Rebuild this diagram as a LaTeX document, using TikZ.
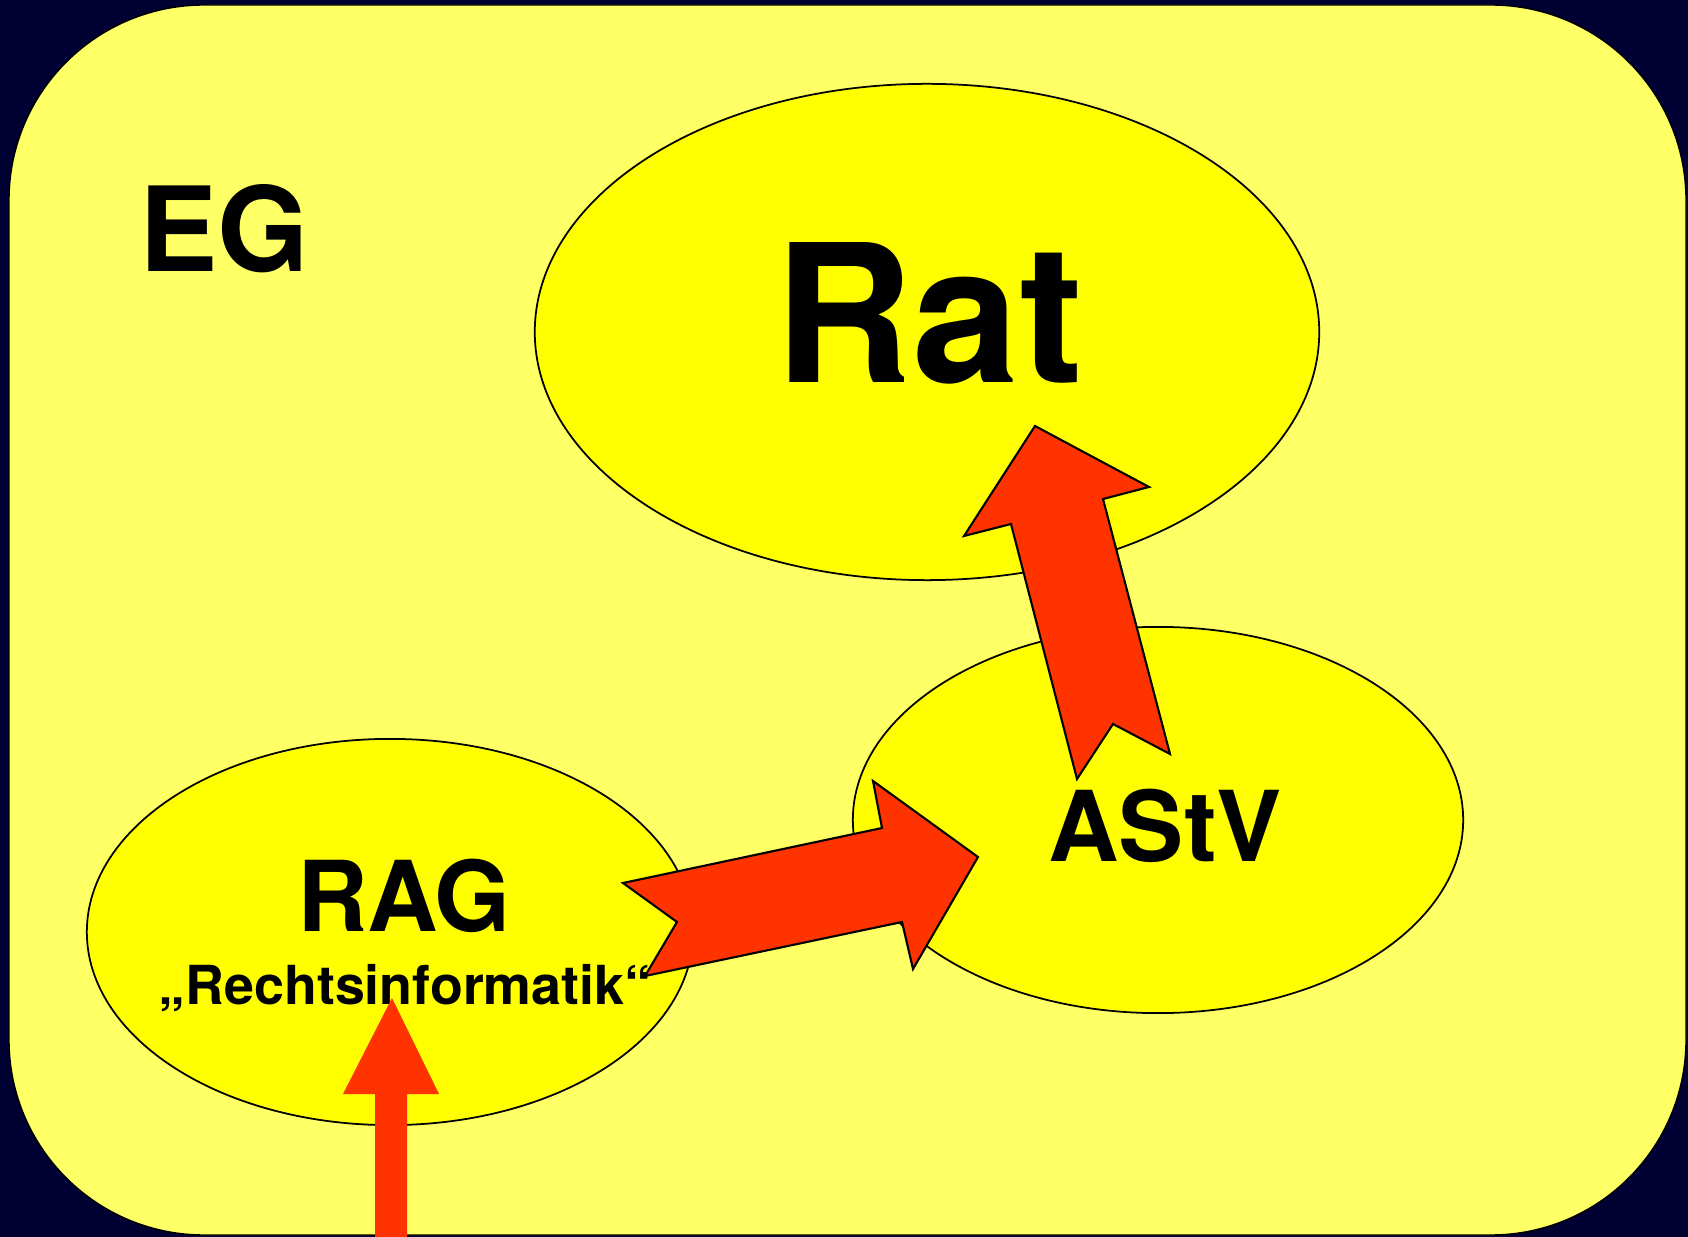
\documentclass[tikz,border=0pt]{standalone}
\usepackage{fontspec}
\setmainfont{TeX Gyre Heros}
\usetikzlibrary{shapes.geometric}

\definecolor{bgnavy}{RGB}{0,0,51}
\definecolor{paleyellow}{RGB}{255,255,102}
\definecolor{blobyellow}{RGB}{255,255,0}
\definecolor{arrowred}{RGB}{255,51,0}

\begin{document}
\begin{tikzpicture}[x=0.01cm, y=-0.01cm,
        blob/.style={ellipse, draw=black, line width=0.5pt, fill=blobyellow, inner sep=0pt},
        label/.style={anchor=base, inner sep=0pt, font=\bfseries},
        bigarrow/.style={draw=black, line width=0.6pt, fill=arrowred, line join=miter}]
            % frame
            \useasboundingbox (0,0) rectangle (1688,1237);
            \fill[bgnavy] (0,0) rectangle (1688,1237);
            \draw[fill=paleyellow, line width=0.4pt, rounded corners=1.95cm] (9,5) rectangle (1686,1235);

            % group label
            \node[label, font=\bfseries\fontsize{33.4}{40}\selectfont] (eg) at (224,272) {EG};

            % bodies
            \node[blob, minimum width=7.84cm, minimum height=4.96cm] (rat) at (927,332) {};
            \node[blob, minimum width=6.10cm, minimum height=3.86cm] (astv) at (1158,820) {};
            \node[blob, minimum width=6.06cm, minimum height=3.86cm] (rag) at (390,932) {};

            % body labels
            \node[label, font=\bfseries\fontsize{54.6}{60}\selectfont] (ratlabel) at (929,383) {Rat};
            \node[label, font=\bfseries\fontsize{27.8}{34}\selectfont] (astvlabel) at (1165,861) {AStV};
            \node[label, font=\bfseries\fontsize{27.8}{34}\selectfont] (raglabel) at (404,931) {RAG};
            \node[label, font=\bfseries\fontsize{15.3}{19}\selectfont] (ragsub) at (405,1004) {„Rechtsinformatik“};

            % RAG -> AStV
            \draw[bigarrow] (623,883) -- (882,828) -- (873,781) -- (978,857) -- (913,969)
                -- (902,922) -- (645,976) -- (677,922) -- cycle;

            % AStV -> Rat
            \draw[bigarrow] (1077,779) -- (1011,524) -- (964,536) -- (1035,426) -- (1149,487)
                -- (1103,499) -- (1170,754) -- (1113,724) -- cycle;

            % input from below
            \fill[arrowred] (375,1237) -- (375,1094) -- (343,1094) -- (392,998) -- (439,1094)
                -- (407,1094) -- (407,1237) -- cycle;
\end{tikzpicture}
\end{document}
